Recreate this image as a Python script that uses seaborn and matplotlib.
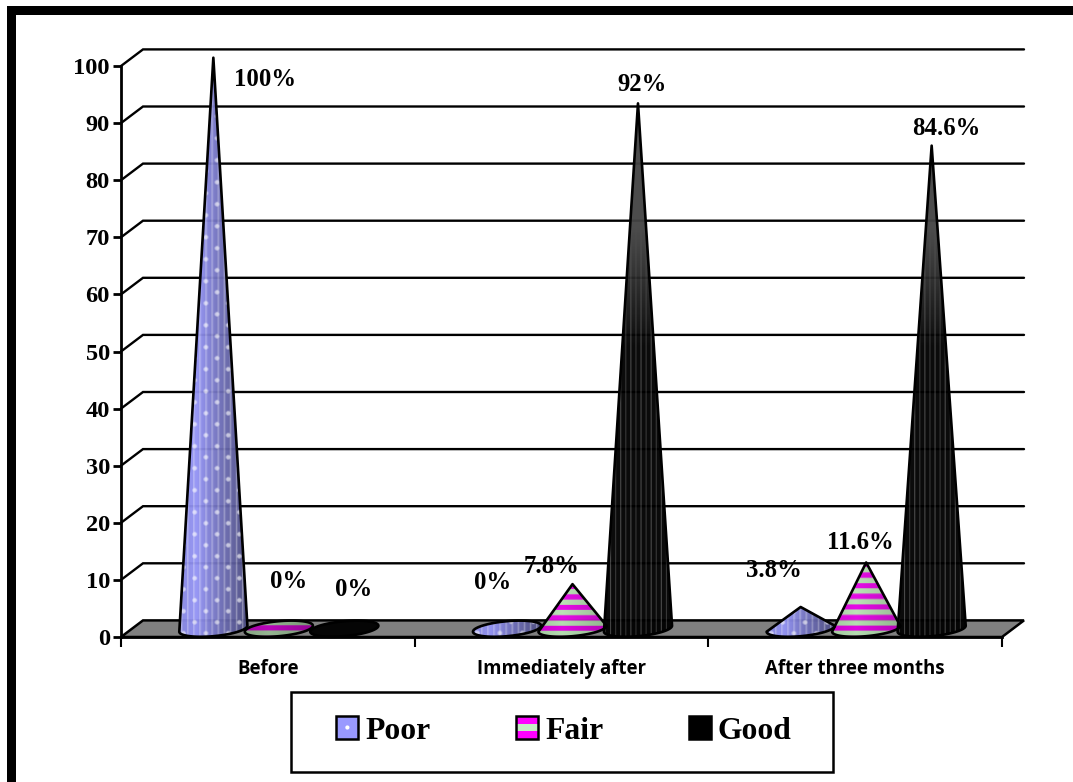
"""
Cone chart of poor / fair / good scores at three time points
"""
import numpy as np
import pandas as pd
import seaborn as sns
import matplotlib.pyplot as plt
from matplotlib.legend_handler import HandlerBase
from matplotlib.patches import Ellipse, Patch, Polygon, Rectangle

#chart values
times = ['Before', 'Immediately after', 'After three months']
levels = ['Poor', 'Fair', 'Good']
poor = [100, 0, 3.8]
fair = [0, 7.8, 11.6]
good = [0, 92, 84.6]
y_ticks = list(range(0, 101, 10))

#label shifts from the cone tip, in pixels (right, up)
label_shift = {
    'Poor': [(52, -22), (-14, 46), (-27, 37)],
    'Fair': [(10, 47), (-21, 18), (-6, 20)],
    'Good': [(9, 39), (4, 19), (15, 17)],
}

W, H = 1073, 782
SERIF = 'Liberation Serif'
FLOOR_DX = 22 / 293.67  #depth of the floor, x axis units
FLOOR_DY = 16.6 / 5.71  #depth of the floor, y axis units
PX_X = 1 / 293.67
PX_Y = 1 / 5.71
SEMI_MINOR = 7.5 * PX_Y
TILT = 3 * PX_Y  #the cone bases lean up to the right
BASE_ROWS = 9  #texture rows below the centre of the base


def mix(a, b, t):
    a = np.array(a)[None, None, :]
    b = np.array(b)[None, None, :]
    return a + (b - a) * t[:, :, None]


def poor_texture(nx, ny):
    xx, yy = np.meshgrid(np.arange(nx), np.arange(ny))
    u = xx / (nx - 1)
    shade = np.interp(u, [0, 0.25, 0.6, 1], [0.88, 0.96, 0.72, 0.5])
    img = np.array([0.6, 0.6, 1.0])[None, None, :] * shade[:, :, None]
    stripes = 0.34 * (xx % 6 == 2) + 0.14 * (xx % 6 == 3)
    img = img + (1 - img) * stripes[:, :, None]
    for i in range(0, nx // 11 + 1):
        for row in range((i % 2) * 11 + 4, ny, 22):
            col = 4 + i * 11
            dist = np.hypot(xx - col, yy - row)
            glow = np.clip(2.7 - dist, 0, 1) * 0.62
            img = img + (1 - img) * glow[:, :, None]
    return np.clip(img, 0, 1)


def fair_texture(nx, ny):
    xx, yy = np.meshgrid(np.arange(nx), np.arange(ny))
    wave = np.cos(2 * np.pi * (yy - BASE_ROWS) / 10.5)
    img = mix((0.72, 0.89, 0.70), (0.9, 0.0, 0.9), np.clip(wave * 2.2 + 0.5, 0, 1))
    u = xx / (nx - 1)
    shade = np.interp(u, [0, 0.35, 1], [0.9, 1.0, 0.8])
    if ny < 25:
        shade = shade * 0.82  #the flat base is darker
    return img * shade[:, :, None]


def good_texture(nx, ny):
    xx, yy = np.meshgrid(np.arange(nx), np.arange(ny))
    line = np.where(xx % 5 == 1, 0.2, 0.0) + np.where(xx % 10 == 6, 0.08, 0.0)
    #the narrow upper part of the tall cones blurs into dark grey
    upper = np.clip((yy - 290) / 120, 0, 1)
    value = line * (1 - upper) + 0.27 * upper
    if ny < 25:
        value = value * 0  #flat base stays plain black
    return np.dstack([value, value, value])


textures = {'Poor': poor_texture, 'Fair': fair_texture, 'Good': good_texture}


def draw_cone(ax, bar, level):
    xc = bar.get_x() + bar.get_width() / 2 + FLOOR_DX / 2
    half = bar.get_width() / 2 * 1.04
    base = FLOOR_DY / 2
    tip = base + bar.get_height()

    if bar.get_height() > 0:
        angle = np.linspace(np.pi, 2 * np.pi, 60)
    else:
        angle = np.linspace(np.pi, 3 * np.pi, 120)
    xs = xc + half * np.cos(angle)
    ys = base + SEMI_MINOR * np.sin(angle) + TILT * np.cos(angle)
    if bar.get_height() > 0:
        xs = np.append(xs, xc)
        ys = np.append(ys, tip)

    shape = Polygon(np.column_stack([xs, ys]), closed=True, facecolor='none', edgecolor='black',
                    lw=1.9, joinstyle='round', clip_on=False, zorder=5)
    ax.add_patch(shape)
    bottom = base - BASE_ROWS * PX_Y
    top = max(tip, base + BASE_ROWS * PX_Y)
    nx = int(round(2 * half / PX_X))
    ny = int(round((top - bottom) / PX_Y))
    im = ax.imshow(textures[level](nx, ny), origin='lower', aspect='auto', alpha=0.96,
                   extent=(xc - half, xc + half, bottom, top),
                   interpolation='bilinear', zorder=4)
    im.set_clip_path(shape)
    return xc, tip


class SwatchHandler(HandlerBase):
    def create_artists(self, legend, handle, x0, y0, width, height, fontsize, trans):
        parts = []
        if handle.get_label() == 'Fair':
            colors = ['#ff00ff', '#c4ecc4', '#ff00ff']
            for i, color in enumerate(colors):
                parts.append(Rectangle((x0, y0 + i * height / 3), width, height / 3,
                                       facecolor=color, edgecolor='none', transform=trans))
        else:
            parts.append(Rectangle((x0, y0), width, height, facecolor=handle.get_facecolor(),
                                   edgecolor='none', transform=trans))
        if handle.get_label() == 'Poor':
            parts.append(Ellipse((x0 + width / 2, y0 + height / 2), 3, 3, facecolor='white',
                                 edgecolor='none', transform=trans))
        parts.append(Rectangle((x0, y0), width, height, facecolor='none', edgecolor='black',
                               lw=1.8, transform=trans))
        return parts


def main():
    sns.set_style('white')
    plt.rcParams['font.family'] = [SERIF, 'DejaVu Sans']
    plt.rcParams['text.color'] = 'black'
    plt.rcParams['xtick.labelcolor'] = 'black'
    plt.rcParams['ytick.labelcolor'] = 'black'

    df = pd.DataFrame({
        'time': times * 3,
        'level': np.repeat(levels, 3),
        'value': poor + fair + good,
    })

    fig = plt.figure(figsize=(W / 100, H / 100), dpi=100, facecolor='white')
    ax = fig.add_axes([121 / W, 1 - 637 / H, (1002 - 121) / W, (637 - 66) / H])
    ax.patch.set_alpha(0)

    sns.barplot(df, x='time', y='value', hue='level', order=times, hue_order=levels,
                width=0.669, gap=0, legend=False, ax=ax, errorbar=None)
    ax.set_xlim(-0.5, 2.5)
    ax.set_ylim(0, 100)
    ax.set_xlabel('')
    ax.set_ylabel('')

    #back wall lines and floor
    x_left, x_right = -0.5, 2.5
    ax.add_patch(Polygon([(x_left, 0), (x_right, 0), (x_right + FLOOR_DX, FLOOR_DY),
                          (x_left + FLOOR_DX, FLOOR_DY)], closed=True, facecolor='#808080',
                         edgecolor='black', lw=1.8, clip_on=False, zorder=1))
    for tick in y_ticks[1:]:
        ax.plot([x_left, x_left + FLOOR_DX, x_right + FLOOR_DX],
                [tick, tick + FLOOR_DY, tick + FLOOR_DY],
                color='black', lw=1.7, clip_on=False, zorder=2, solid_joinstyle='miter')

    #the bars are only used for their positions, cones are drawn on top
    for level, container in zip(levels, ax.containers):
        for bar, value, shift in zip(container.patches, container.datavalues, label_shift[level]):
            bar.set_visible(False)
            xc, tip = draw_cone(ax, bar, level)
            ax.annotate(f'{value:g}%', xy=(xc, tip), xytext=(shift[0] * 0.72, shift[1] * 0.72),
                        textcoords='offset points', ha='center', va='center', fontsize=17.8,
                        fontweight='bold', family=SERIF, color='black', zorder=6,
                        annotation_clip=False)

    ax.set_xlim(x_left, x_right)
    ax.set_ylim(0, 100)

    #axes
    sns.despine(ax=ax, top=True, right=True)
    for side in ['left', 'bottom']:
        ax.spines[side].set_linewidth(2)
        ax.spines[side].set_color('black')
        ax.spines[side].set_zorder(3)
    ax.set_yticks(y_ticks)
    ax.set_yticklabels([str(t) for t in y_ticks], fontsize=17.6, fontweight='bold', family=SERIF)
    ax.tick_params(axis='y', length=6, width=2, pad=2, color='black', left=True)
    ax.set_xticks([-0.5, 0.5, 1.5, 2.5])
    ax.set_xticklabels([])
    ax.tick_params(axis='x', which='major', length=7, width=1.5, color='black', bottom=True)
    ax.set_xticks([0, 1, 2], labels=times, minor=True)
    ax.tick_params(axis='x', which='minor', length=0, pad=16)
    for label in ax.get_xticklabels(minor=True):
        label.set_fontfamily('Open Sans')
        label.set_fontweight('bold')
        label.set_fontsize(13.4)

    #legend
    fig.add_artist(Rectangle((291 / W, 1 - 772 / H), 542 / W, 80 / H, transform=fig.transFigure,
                             facecolor='white', edgecolor='black', lw=1.8, zorder=-1))
    swatches = [Patch(facecolor='#9999ff', label='Poor'),
                Patch(facecolor='#ff00ff', label='Fair'),
                Patch(facecolor='black', label='Good')]
    legend = ax.legend(handles=swatches, handler_map={Patch: SwatchHandler()}, ncols=3,
                       loc='center', bbox_to_anchor=(564 / W, 1 - 731 / H),
                       bbox_transform=fig.transFigure, frameon=False, handlelength=0.7,
                       handleheight=0.7, handletextpad=0.22, columnspacing=2.7,
                       borderaxespad=0, borderpad=0,
                       prop={'family': SERIF, 'weight': 'bold', 'size': 22.8})
    legend.set_zorder(10)

    #picture frame, only top and left edges are in the image
    fig.add_artist(Rectangle((7 / W, 1 - 15 / H), (W - 7) / W, 9 / H, transform=fig.transFigure,
                             facecolor='black', edgecolor='none'))
    fig.add_artist(Rectangle((7 / W, 0), 9 / W, 1 - 6 / H, transform=fig.transFigure,
                             facecolor='black', edgecolor='none'))

    fig.savefig('out.png', dpi=100)


if __name__ == '__main__':
    main()
